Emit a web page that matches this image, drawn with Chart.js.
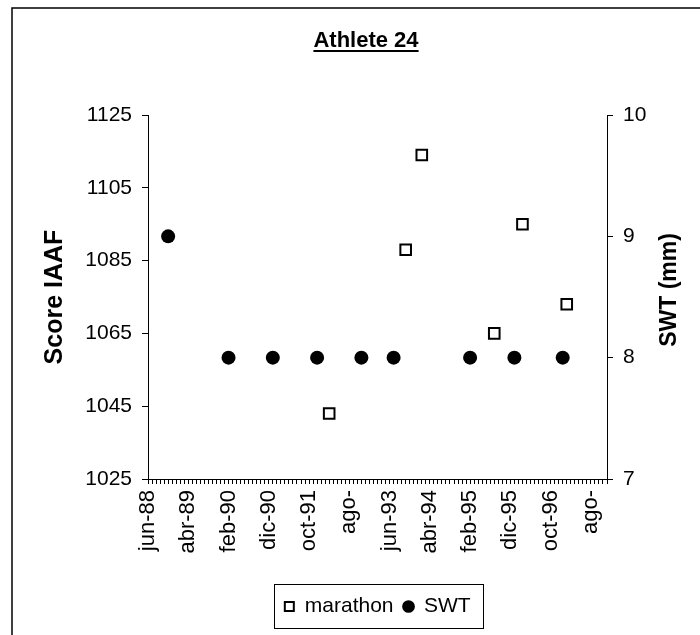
<!DOCTYPE html>
<html>
<head>
<meta charset="utf-8">
<title>Athlete 24</title>
<script src="https://cdn.jsdelivr.net/npm/chart.js@4.4.1/dist/chart.umd.min.js"></script>
<style>
  html, body { margin: 0; padding: 0; background: #fff; }
  #wrap { position: relative; width: 700px; height: 635px; }
</style>
</head>
<body>
<div id="wrap"><canvas id="athleteChart"></canvas></div>
<script>
// x axis labels, one every 10 months starting jun-88
const xTickLabels = ['jun-88', 'abr-89', 'feb-90', 'dic-90', 'oct-91', 'ago-', 'jun-93', 'abr-94', 'feb-95', 'dic-95', 'oct-96', 'ago-'];
const scoreTicks = [1025, 1045, 1065, 1085, 1105, 1125];
const swtTicks = [7, 8, 9, 10];

const marathonDates = ['1992-03', '1993-10', '1994-02', '1995-08', '1996-03', '1997-02'];
const marathonScores = [1043, 1088, 1114, 1065, 1095, 1073];

const swtDates = ['1988-11', '1990-02', '1991-01', '1991-12', '1992-11', '1993-07', '1995-02', '1996-01', '1997-01'];
const swtValues = [9, 8, 8, 8, 8, 8, 8, 8, 8];

const FONT = '"Liberation Sans", Arial, sans-serif';
Chart.defaults.font.family = FONT;
Chart.defaults.color = '#000';

// months counted from jun-88
function monthIndex(d) {
  const [y, m] = d.split('-').map(Number);
  return (y - 1988) * 12 + (m - 6);
}

function points(dates, values) {
  return dates.map((d, i) => ({ x: monthIndex(d), y: values[i] }));
}

// white background, outer frame, title, right axis title, legend box
const decorations = {
  id: 'decorations',
  beforeDraw(chart) {
    const c = chart.ctx;
    c.save();
    c.fillStyle = '#fff';
    c.fillRect(0, 0, chart.width, chart.height);
    c.restore();
  },
  afterDraw(chart) {
    const c = chart.ctx;
    c.save();
    c.strokeStyle = '#000';
    c.lineWidth = 1.5;
    c.strokeRect(12, 8, chart.width + 20, chart.height + 20);

    c.fillStyle = '#000';
    c.font = 'bold 22px ' + FONT;
    c.textAlign = 'center';
    c.textBaseline = 'alphabetic';
    c.fillText('Athlete 24', 366, 47);
    const w = c.measureText('Athlete 24').width;
    c.fillRect(366 - w / 2, 50, w, 2);

    c.save();
    c.translate(670, 290);
    c.rotate(-Math.PI / 2);
    c.font = 'bold 23px ' + FONT;
    c.textBaseline = 'middle';
    c.fillText('SWT (mm)', 0, 0);
    c.restore();

    const boxes = chart.legend.legendHitBoxes;
    if (boxes && boxes.length) {
      const first = boxes[0];
      const last = boxes[boxes.length - 1];
      const left = Math.round(first.left - 10);
      const right = Math.round(last.left + last.width + 12);
      const top = Math.round(first.top - 12);
      const bottom = Math.round(first.top + first.height + 11);
      c.lineWidth = 1;
      c.strokeRect(left + 0.5, top + 0.5, right - left, bottom - top);
    }
    c.restore();
  }
};

const ctx = document.getElementById('athleteChart').getContext('2d');
new Chart(ctx, {
  type: 'scatter',
  data: {
    datasets: [
      {
        label: 'marathon',
        data: points(marathonDates, marathonScores),
        yAxisID: 'y',
        pointStyle: 'rect',
        pointRadius: 7.5,
        pointBorderWidth: 2,
        pointBackgroundColor: '#fff',
        pointBorderColor: '#000'
      },
      {
        label: 'SWT',
        data: points(swtDates, swtValues),
        yAxisID: 'y1',
        pointStyle: 'circle',
        pointRadius: 7,
        pointBorderWidth: 0,
        pointBackgroundColor: '#000',
        pointBorderColor: '#000'
      }
    ]
  },
  options: {
    responsive: true,
    maintainAspectRatio: false,
    animation: false,
    events: [],
    layout: { padding: { top: 115, left: 0, right: 0, bottom: 8 } },
    plugins: {
      title: { display: false },
      tooltip: { enabled: false },
      legend: {
        position: 'bottom',
        fullSize: false,
        labels: {
          usePointStyle: true,
          boxWidth: 10,
          boxHeight: 9,
          padding: 10,
          color: '#000',
          font: { size: 21 }
        }
      }
    },
    scales: {
      x: {
        type: 'linear',
        min: 0,
        max: 114,
        border: { display: true, color: '#000', width: 1 },
        grid: { drawOnChartArea: false, drawTicks: true, tickLength: 5, tickColor: '#000', tickWidth: 1 },
        ticks: {
          stepSize: 1,
          autoSkip: false,
          minRotation: 90,
          maxRotation: 90,
          padding: 6,
          color: '#000',
          font: { size: 22 },
          callback: v => (Math.round(v) % 10 === 0 ? xTickLabels[Math.round(v) / 10] : '')
        },
        afterFit: s => { s.height = 107; }
      },
      y: {
        position: 'left',
        min: scoreTicks[0],
        max: scoreTicks[scoreTicks.length - 1],
        border: { display: true, color: '#000', width: 1 },
        grid: { drawOnChartArea: false, drawTicks: true, tickLength: 6, tickColor: '#000' },
        ticks: {
          stepSize: scoreTicks[1] - scoreTicks[0],
          padding: 10,
          color: '#000',
          font: { size: 21 },
          callback: v => String(v)
        },
        title: {
          display: true,
          text: 'Score IAAF',
          color: '#000',
          font: { size: 25, weight: 'bold' },
          padding: { top: 40, bottom: 0 }
        },
        afterFit: s => { s.width = 148; }
      },
      y1: {
        position: 'right',
        min: swtTicks[0],
        max: swtTicks[swtTicks.length - 1],
        border: { display: true, color: '#000', width: 1 },
        grid: { drawOnChartArea: false, drawTicks: true, tickLength: 6, tickColor: '#000' },
        ticks: {
          stepSize: swtTicks[1] - swtTicks[0],
          padding: 10,
          color: '#000',
          font: { size: 21 },
          callback: v => String(v)
        },
        afterFit: s => { s.width = 93; }
      }
    }
  },
  plugins: [decorations]
});
</script>
</body>
</html>
